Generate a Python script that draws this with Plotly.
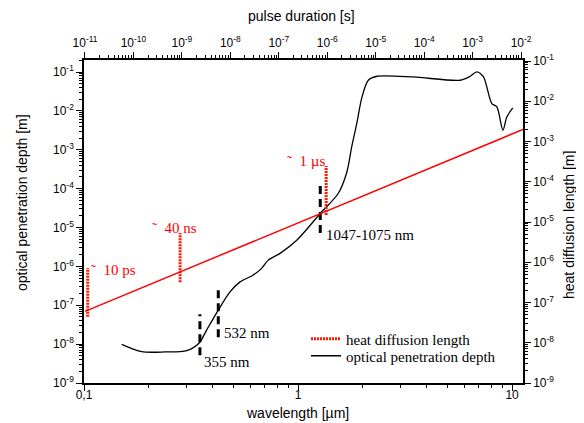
import plotly.graph_objects as go

# ---- optical penetration depth (black curve): wavelength [µm] -> depth [m]
wavelength_um = [0.150, 0.186, 0.239, 0.302, 0.346, 0.374, 0.424, 0.481, 0.536, 0.618,
                 0.676, 0.726, 0.824, 0.986, 1.27, 1.54, 1.69, 1.78, 1.88, 1.99,
                 2.13, 2.34, 3.46, 5.71, 6.37, 6.84, 7.35, 8.04, 8.49, 9.06, 9.45, 10.07]
penetration_m = [9.9e-9, 6.4e-9, 6.3e-9, 6.8e-9, 1.09e-8, 2.3e-8, 7.5e-8, 2.2e-7, 4.0e-7, 6.0e-7,
                 8.9e-7, 1.45e-6, 2.16e-6, 4.7e-6, 2.3e-5, 7.5e-5, 2.65e-4, 1.17e-3, 4.7e-3, 0.0229,
                 0.0615, 0.078, 0.0748, 0.0615, 0.078, 0.1007, 0.0748, 0.0155, 0.0127, 3.2e-3, 7.0e-3, 0.0119]

# ---- heat diffusion length (red line): pulse duration [s] -> length [m]
pulse_s = [1e-11, 1.1e-2]
diffusion_m = [6.0e-8, 2.0e-3]

# ---- red dotted markers (pulse durations)
marker_pulse_s = [1.14e-11, 9.2e-10, 9.5e-7]
marker_low_m = [4.4e-8, 3.2e-7, 1.5e-5]
marker_high_m = [7.2e-7, 5.3e-6, 2.46e-4]
marker_labels = ["˜\u00a0 10 ps", "˜\u00a0 40 ns", "˜\u00a0 1 µs"]

# ---- black dashed markers (laser wavelengths)
laser_wl_um = [0.348, 0.424, 1.27]
laser_low_m = [5.2e-9, 1.5e-8, 7.2e-6]
laser_high_m = [5.9e-8, 2.8e-7, 1.38e-4]
laser_labels = ["355 nm", "532 nm", "1047-1075 nm"]

# ---- tick labels
wl_tickvals = [0.1, 1, 10]
wl_ticktext = ["0,1", "1", "10"]
depth_exps = list(range(-9, 0))          # 10^-9 ... 10^-1
pulse_exps = list(range(-11, -1))        # 10^-11 ... 10^-2

def pow_ticks(exps):
    return [10.0 ** e for e in exps], ["10<sup>%d</sup>" % e for e in exps]

# The page body has an 8 px margin, so the figure is drawn 8 px smaller and
# all page-pixel geometry below is expressed in window pixels.
OFF = 8
W, H = 584 - OFF, 423 - OFF
L, R, T, B = 84, 523, 60, 383          # plot area in window pixels
def px(x):
    return (x - L) / (R - L)
def py(y):
    return (B - y) / (B - T)

fig = go.Figure()

def segs(xv, lo, hi):
    xs, ys = [], []
    for x, a, b in zip(xv, lo, hi):
        xs += [x, x, None]
        ys += [a, b, None]
    return xs, ys

mx, my = segs(marker_pulse_s, marker_low_m, marker_high_m)
fig.add_trace(go.Scatter(x=mx, y=my, xaxis="x2", yaxis="y2", mode="lines",
                         line=dict(color="#ff1a00", width=3, dash="2px,1px"),
                         name="heat diffusion length", legend="legend"))
fig.add_trace(go.Scatter(x=pulse_s, y=diffusion_m, xaxis="x2", yaxis="y2", mode="lines",
                         line=dict(color="#ff0000", width=1.5), showlegend=False))
fig.add_trace(go.Scatter(x=wavelength_um, y=penetration_m, mode="lines",
                         line=dict(color="black", width=1.3, shape="spline", smoothing=0.8),
                         name="optical penetration depth", legend="legend2"))
lx, ly = segs(laser_wl_um, laser_low_m, laser_high_m)
fig.add_trace(go.Scatter(x=lx, y=ly, mode="lines",
                         line=dict(color="black", width=3, dash="8px,5px"), showlegend=False))

tickfont = dict(family="Liberation Sans, Arial", size=12, color="black")
axstyle = dict(type="log", showgrid=False, zeroline=False, showline=True, linecolor="black",
               linewidth=1.6, ticks="outside", ticklen=6, tickwidth=1.4, tickcolor="black",
               tickfont=tickfont, automargin=False, tickmode="array")

def minors(e0, e1):
    return [m * 10.0 ** e for e in range(e0, e1) for m in range(2, 10)]

minor_style = dict(ticks="outside", ticklen=3, tickwidth=1, tickcolor="black", showgrid=False)

dv, dt = pow_ticks(depth_exps)
pv, pt = pow_ticks(pulse_exps)

legfont = dict(family="Liberation Serif, Times New Roman", size=15, color="black")
legcommon = dict(xanchor="left", yanchor="middle", bgcolor="rgba(0,0,0,0)", font=legfont,
                 tracegroupgap=0, itemwidth=30, borderwidth=0)

fig.update_layout(
    width=W, height=H,
    margin=dict(l=L - OFF, r=584 - R, t=T - OFF, b=423 - B, autoexpand=False),
    paper_bgcolor="white", plot_bgcolor="white",
    xaxis=dict(**axstyle, range=[-1, 1.051], tickvals=wl_tickvals, ticktext=wl_ticktext,
               ticklabelstandoff=-6,
               minor=dict(**minor_style, tickvals=minors(-1, 2))),
    yaxis=dict(**axstyle, range=[-9, -0.69], tickvals=dv, ticktext=dt,
               minor=dict(**minor_style, tickvals=minors(-9, 0))),
    xaxis2=dict(**axstyle, range=[-11.02, -1.96], tickvals=pv, ticktext=pt,
                overlaying="x", side="top", anchor="y",
                minor=dict(**minor_style, tickvals=minors(-11, -1))),
    yaxis2=dict(**axstyle, range=[-9, -0.975], tickvals=dv, ticktext=dt,
                overlaying="y", side="right", anchor="x",
                minor=dict(**minor_style, tickvals=minors(-9, 0))),
    legend=dict(x=px(306), y=py(339), **legcommon),
    legend2=dict(x=px(306), y=py(356), **legcommon),
    showlegend=True,
)

serif_red = dict(family="Liberation Serif, Times New Roman", size=15, color="#ff0000")
serif_blk = dict(family="Liberation Serif, Times New Roman", size=15, color="black")
label_pos_red = [(89, 270), (150, 228), (285, 161)]
label_pos_blk = [(202, 362), (222, 333), (324, 235)]
for t, (x, y) in zip(marker_labels, label_pos_red):
    fig.add_annotation(text=t, x=px(x), y=py(y), xref="paper", yref="paper",
                       xanchor="left", yanchor="middle", showarrow=False, font=serif_red)
for t, (x, y) in zip(laser_labels, label_pos_blk):
    fig.add_annotation(text=t, x=px(x), y=py(y), xref="paper", yref="paper",
                       xanchor="left", yanchor="middle", showarrow=False, font=serif_blk)

titlefont = dict(family="Liberation Sans, Arial", size=14, color="black")
fig.add_annotation(text="wavelength [µm]", x=px(297), y=py(413), xref="paper", yref="paper",
                   showarrow=False, font=titlefont, xanchor="center", yanchor="middle")
fig.add_annotation(text="pulse duration [s]", x=px(301), y=py(16), xref="paper", yref="paper",
                   showarrow=False, font=titlefont, xanchor="center", yanchor="middle")
fig.add_annotation(text="optical penetration depth [m]", x=px(22), y=py(203), xref="paper",
                   yref="paper", showarrow=False, font=titlefont, textangle=-90,
                   xanchor="center", yanchor="middle")
fig.add_annotation(text="heat diffusion length [m]", x=px(569), y=py(225), xref="paper",
                   yref="paper", showarrow=False, font=titlefont, textangle=-90,
                   xanchor="center", yanchor="middle")

fig.write_html("out.html")
